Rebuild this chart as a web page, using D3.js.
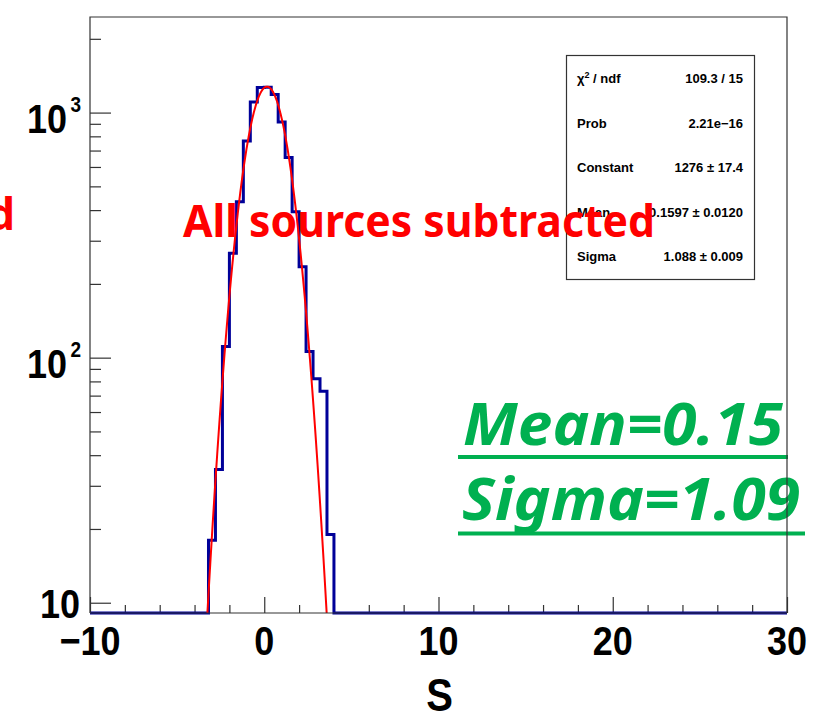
<!DOCTYPE html>
<html>
<head>
<meta charset="utf-8">
<script src="https://cdn.jsdelivr.net/npm/d3@7"></script>
<style>
  body { margin: 0; background: #fff; }
  svg { display: block; }
</style>
</head>
<body>
<div id="chart"></div>
<script>
// S histogram, bins 0.4 wide on [-10, 30]; only the filled bins are listed
const binLow = [-3.2, -2.8, -2.4, -2.0, -1.6, -1.2, -0.8, -0.4, 0.0, 0.4, 0.8, 1.2, 1.6, 2.0, 2.4, 2.8, 3.2, 3.6];
const counts = [18, 35, 111, 267, 433, 766, 1105, 1265, 1270, 1184, 915, 655, 394, 235, 106, 82, 73, 19];
const binWidth = 0.4;
const xRange = [-10, 30];
const yRange = [9.08, 2455];

// gaussian fit
const fitConstant = 1276, fitMean = 0.1597, fitSigma = 1.088;

// axes
const xTicks = [-10, 0, 10, 20, 30];
const xTickLabels = ["\u221210", "0", "10", "20", "30"];
const yTicks = [10, 100, 1000];
const yTickBase = ["10", "10", "10"];
const yTickExp = ["", "2", "3"];

// stats box
const statNames = ["\u03c7", "Prob", "Constant", "Mean", "Sigma"];
const statValues = ["109.3 / 15", "2.21e\u221216", "1276 \u00b1 17.4", "0.1597 \u00b1 0.0120", "1.088 \u00b1 0.009"];

const width = 813, height = 715;
const frame = { left: 90, right: 787, top: 17, bottom: 613 };

const svg = d3.select("#chart").append("svg")
  .attr("width", width)
  .attr("height", height);

svg.append("rect").attr("width", width).attr("height", height).attr("fill", "#fff");

const x = d3.scaleLinear().domain(xRange).range([frame.left, frame.right]);
const y = d3.scaleLog().domain(yRange).range([frame.bottom, frame.top]);

svg.append("defs").append("clipPath").attr("id", "frameClip")
  .append("rect")
  .attr("x", frame.left).attr("y", frame.top)
  .attr("width", frame.right - frame.left)
  .attr("height", frame.bottom - frame.top);

// ticks (ROOT style, pointing inward)
const xMinor = d3.range(xRange[0], xRange[1] + 0.001, 2).filter(v => v % 10 !== 0);
const yMinor = [];
[1, 10, 100, 1000].forEach(d => {
  for (let m = 2; m <= 9; m++) {
    const v = d * m;
    if (v > yRange[0] && v < yRange[1]) yMinor.push(v);
  }
});

function tickAxis(axis) {
  return g => { g.call(axis); g.select(".domain").remove(); g.selectAll("line").attr("stroke", "#333").attr("stroke-width", 1.2); };
}

svg.append("g").attr("transform", `translate(0,${frame.bottom})`)
  .call(tickAxis(d3.axisBottom(x).tickValues(xTicks).tickSize(-16).tickSizeOuter(0).tickFormat("")));
svg.append("g").attr("transform", `translate(0,${frame.bottom})`)
  .call(tickAxis(d3.axisBottom(x).tickValues(xMinor).tickSize(-8).tickSizeOuter(0).tickFormat("")));
svg.append("g").attr("transform", `translate(${frame.left},0)`)
  .call(tickAxis(d3.axisLeft(y).tickValues(yTicks).tickSize(-21).tickSizeOuter(0).tickFormat("")));
svg.append("g").attr("transform", `translate(${frame.left},0)`)
  .call(tickAxis(d3.axisLeft(y).tickValues(yMinor).tickSize(-11).tickSizeOuter(0).tickFormat("")));

// tick labels
const labelFont = "'Liberation Sans', Arial, Helvetica, sans-serif";
svg.append("g").selectAll("g")
  .data(xTicks)
  .join("g")
  .attr("transform", d => `translate(${x(d)},655) scale(1,1.15)`)
  .append("text")
  .attr("text-anchor", "middle")
  .attr("font-family", labelFont)
  .attr("font-weight", "bold")
  .attr("font-size", 36)
  .text((d, i) => xTickLabels[i]);

const yLab = svg.append("g").selectAll("g")
  .data(yTicks)
  .join("g")
  .attr("transform", (d, i) => `translate(0,${y(d) + (yTickExp[i] ? 20 : 15.5)}) scale(1,1.15)`);
yLab.append("text")
  .attr("x", (d, i) => yTickExp[i] ? 67 : 80)
  .attr("text-anchor", "end")
  .attr("font-family", labelFont)
  .attr("font-weight", "bold")
  .attr("font-size", 36)
  .text((d, i) => yTickBase[i]);
yLab.append("text")
  .attr("x", 81)
  .attr("y", -18)
  .attr("text-anchor", "end")
  .attr("font-family", labelFont)
  .attr("font-weight", "bold")
  .attr("font-size", 19)
  .text((d, i) => yTickExp[i]);

// axis title
svg.append("g")
  .attr("transform", `translate(${(frame.left + frame.right) / 2 + 1},711) scale(1,1.15)`)
  .append("text")
  .attr("text-anchor", "middle")
  .attr("font-family", labelFont)
  .attr("font-weight", "bold")
  .attr("font-size", 40)
  .text("S");

// histogram outline
const histPts = [[xRange[0], yRange[0]]];
binLow.forEach((b, i) => histPts.push([b, counts[i]]));
histPts.push([binLow[binLow.length - 1] + binWidth, yRange[0]]);
histPts.push([xRange[1], yRange[0]]);

svg.append("path")
  .datum(histPts)
  .attr("fill", "none")
  .attr("stroke", "#000099")
  .attr("stroke-width", 3)
  .attr("d", d3.line().x(d => x(d[0])).y(d => y(d[1])).curve(d3.curveStepAfter));

// fit curve
const fitPts = d3.range(-6, 8.001, 0.02).map(s => {
  const v = fitConstant * Math.exp(-0.5 * Math.pow((s - fitMean) / fitSigma, 2));
  return [s, Math.max(v, yRange[0] * 0.1)];
});
svg.append("path")
  .datum(fitPts)
  .attr("clip-path", "url(#frameClip)")
  .attr("fill", "none")
  .attr("stroke", "#ff0000")
  .attr("stroke-width", 2)
  .attr("d", d3.line().x(d => x(d[0])).y(d => y(d[1])));

// stats box
const stats = svg.append("g");
stats.append("rect")
  .attr("x", 566.5).attr("y", 55.5)
  .attr("width", 188).attr("height", 224)
  .attr("fill", "#fff")
  .attr("stroke", "#333")
  .attr("stroke-width", 1.2);
statNames.forEach((name, i) => {
  const by = 83 + i * 44.5;
  const t = stats.append("text")
    .attr("x", 577).attr("y", by)
    .attr("font-family", labelFont).attr("font-weight", "bold").attr("font-size", 13)
    .text(name);
  if (i === 0) {
    t.append("tspan").attr("font-size", 9).attr("dy", -5).text("2");
    t.append("tspan").attr("dy", 5).text(" / ndf");
  }
  stats.append("text")
    .attr("x", 743).attr("y", by)
    .attr("text-anchor", "end")
    .attr("font-family", labelFont).attr("font-weight", "bold").attr("font-size", 13)
    .text(statValues[i]);
});

// red annotations
const noteFont = "'Noto Sans', 'Open Sans', sans-serif";
svg.append("text")
  .attr("x", 183).attr("y", 237)
  .attr("font-family", noteFont).attr("font-weight", "bold").attr("font-size", 44)
  .attr("fill", "#ff0000")
  .attr("textLength", 472).attr("lengthAdjust", "spacingAndGlyphs")
  .text("All sources subtracted");
svg.append("text")
  .attr("x", 15).attr("y", 230)
  .attr("text-anchor", "end")
  .attr("font-family", noteFont).attr("font-weight", "bold").attr("font-size", 44)
  .attr("fill", "#ff0000")
  .text("d");

// green annotations
const green = "#00b050";
svg.append("text")
  .attr("x", 463).attr("y", 445)
  .attr("font-family", noteFont).attr("font-weight", "bold").attr("font-style", "italic").attr("font-size", 60)
  .attr("fill", green)
  .attr("textLength", 320).attr("lengthAdjust", "spacingAndGlyphs")
  .text("Mean=0.15");
svg.append("rect").attr("x", 458).attr("y", 455).attr("width", 330).attr("height", 4).attr("fill", green);
svg.append("text")
  .attr("x", 462).attr("y", 520)
  .attr("font-family", noteFont).attr("font-weight", "bold").attr("font-style", "italic").attr("font-size", 60)
  .attr("fill", green)
  .attr("textLength", 338).attr("lengthAdjust", "spacingAndGlyphs")
  .text("Sigma=1.09");
svg.append("rect").attr("x", 458).attr("y", 531.5).attr("width", 347).attr("height", 4).attr("fill", green);

// frame
svg.append("path")
  .attr("fill", "none")
  .attr("stroke", "#333")
  .attr("stroke-width", 1.2)
  .attr("d", `M${frame.left},${frame.bottom}V${frame.top}H${frame.right}V${frame.bottom}`);
svg.append("line")
  .attr("x1", frame.left).attr("x2", frame.right)
  .attr("y1", frame.bottom).attr("y2", frame.bottom)
  .attr("stroke", "#333").attr("stroke-width", 1.2);
</script>
</body>
</html>
